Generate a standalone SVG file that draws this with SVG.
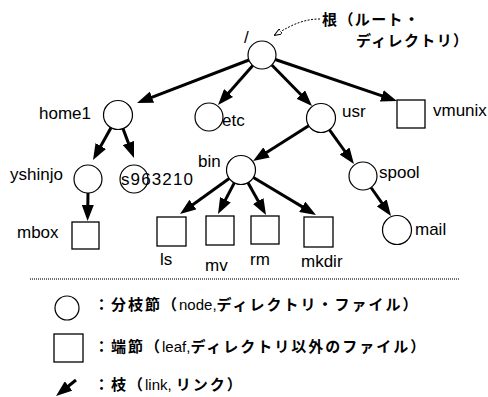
<svg xmlns="http://www.w3.org/2000/svg" width="488" height="397" viewBox="0 0 488 397">
<style>
.nd{fill:#fff;stroke:#000;stroke-width:1.2}
.lf{fill:#fff;stroke:#000;stroke-width:1.3}
.lb{font-family:"Liberation Sans",Arial,sans-serif;font-size:17px;fill:#000}
.jp{font-family:"Noto Sans CJK JP","Noto Sans",sans-serif;font-size:15px;font-weight:bold;fill:#000;letter-spacing:2px}
.lat{font-family:"Liberation Sans",Arial,sans-serif;font-weight:normal;letter-spacing:0}
.ln{stroke:#000;stroke-width:3;fill:none;marker-end:url(#ah)}
</style>
<defs>
<marker id="ah" viewBox="0 0 16 12" markerWidth="16" markerHeight="12" refX="8" refY="6" orient="auto" markerUnits="userSpaceOnUse">
<path d="M0,0 L16,6 L0,12 z" fill="#000"/>
</marker>
<marker id="sa" viewBox="0 0 8 6" markerWidth="8" markerHeight="6" refX="7" refY="3" orient="auto" markerUnits="userSpaceOnUse">
<path d="M0,0 L8,3 L0,6 z" fill="#fff" stroke="#000" stroke-width="1"/>
</marker>
</defs>
<rect width="488" height="397" fill="#fff"/>

<g id="connectors">
<line class="ln" x1="249" y1="60" x2="144.5" y2="100.1"/>
<line class="ln" x1="252.8" y1="65.5" x2="223.3" y2="99"/>
<line class="ln" x1="271.8" y1="65" x2="306.4" y2="100.3"/>
<line class="ln" x1="275.3" y1="59.5" x2="389.4" y2="98.4"/>
<line class="ln" x1="111" y1="127.7" x2="96.9" y2="153"/>
<line class="ln" x1="123" y1="128.6" x2="131.2" y2="150.5"/>
<line class="ln" x1="308.7" y1="125.7" x2="259.8" y2="156.7"/>
<line class="ln" x1="329.5" y1="129.8" x2="349.3" y2="157.5"/>
<line class="ln" x1="88" y1="193" x2="87.7" y2="213"/>
<line class="ln" x1="229.2" y1="178.5" x2="186.5" y2="209.3"/>
<line class="ln" x1="234.3" y1="182.9" x2="221.7" y2="206.9"/>
<line class="ln" x1="248" y1="182.7" x2="262.1" y2="208"/>
<line class="ln" x1="253.4" y1="177.5" x2="309.1" y2="210.9"/>
<line class="ln" x1="371" y1="187.5" x2="386.4" y2="209.4"/>
<path d="M320,19 C306,19 294,23 275,35" fill="none" stroke="#000" stroke-width="1" stroke-dasharray="2 1.5" marker-end="url(#sa)"/>
</g>

<g id="root">
<circle class="nd" cx="262" cy="55" r="14"/>
<text class="lb" x="244" y="43" font-size="14">/</text>
<text class="jp" x="322" y="25" font-size="14" textLength="97" style="letter-spacing:0">根（ルート・</text>
<text class="jp" x="356" y="46" font-size="14" textLength="112" style="letter-spacing:0">ディレクトリ）</text>
</g>
<g id="home1"><circle class="nd" cx="118" cy="115" r="14.5"/><text class="lb" x="39" y="119">home1</text></g>
<g id="etc"><circle class="nd" cx="209" cy="117" r="14"/><text class="lb" x="222" y="126">etc</text></g>
<g id="usr"><circle class="nd" cx="321" cy="118" r="14.5"/><text class="lb" x="342" y="117">usr</text></g>
<g id="vmunix"><rect class="lf" x="397" y="100" width="28" height="28"/><text class="lb" x="433" y="116">vmunix</text></g>
<g id="yshinjo"><circle class="nd" cx="88" cy="179" r="14"/><text class="lb" x="10" y="180">yshinjo</text></g>
<g id="s963210"><circle class="nd" cx="134" cy="179" r="14"/><text class="lb" x="121" y="185" textLength="72">s963210</text></g>
<g id="bin"><circle class="nd" cx="241" cy="170" r="14.5"/><text class="lb" x="198" y="167">bin</text></g>
<g id="spool"><circle class="nd" cx="363" cy="176" r="14"/><text class="lb" x="379" y="178">spool</text></g>
<g id="mbox"><rect class="lf" x="72" y="222" width="27" height="27"/><text class="lb" x="17" y="238">mbox</text></g>
<g id="ls"><rect class="lf" x="157" y="217" width="29" height="29"/><text class="lb" x="160" y="265">ls</text></g>
<g id="mv"><rect class="lf" x="206" y="216" width="28" height="29"/><text class="lb" x="205" y="271">mv</text></g>
<g id="rm"><rect class="lf" x="251" y="216" width="28" height="28"/><text class="lb" x="250" y="265">rm</text></g>
<g id="mkdir"><rect class="lf" x="304" y="217" width="29" height="30"/><text class="lb" x="301" y="267">mkdir</text></g>
<g id="mail"><circle class="nd" cx="397" cy="230" r="14.5"/><text class="lb" x="415" y="235">mail</text></g>

<line x1="30" y1="279" x2="460" y2="279" stroke="#444" stroke-width="1.5" stroke-dasharray="1 1"/>

<g id="legend">
<circle class="nd" cx="67" cy="308" r="12"/>
<text class="jp" x="94" y="310">：分枝節（<tspan class="lat">node,</tspan>ディレクトリ・ファイル）</text>
<rect class="lf" x="54" y="334" width="29" height="28"/>
<text class="jp" x="94" y="352">：端節（<tspan class="lat">leaf,</tspan>ディレクトリ以外のファイル）</text>
<line class="ln" x1="76" y1="380" x2="62.3" y2="391"/>
<text class="jp" x="94" y="390">：枝（<tspan class="lat">link, </tspan>リンク）</text>
</g>
</svg>
